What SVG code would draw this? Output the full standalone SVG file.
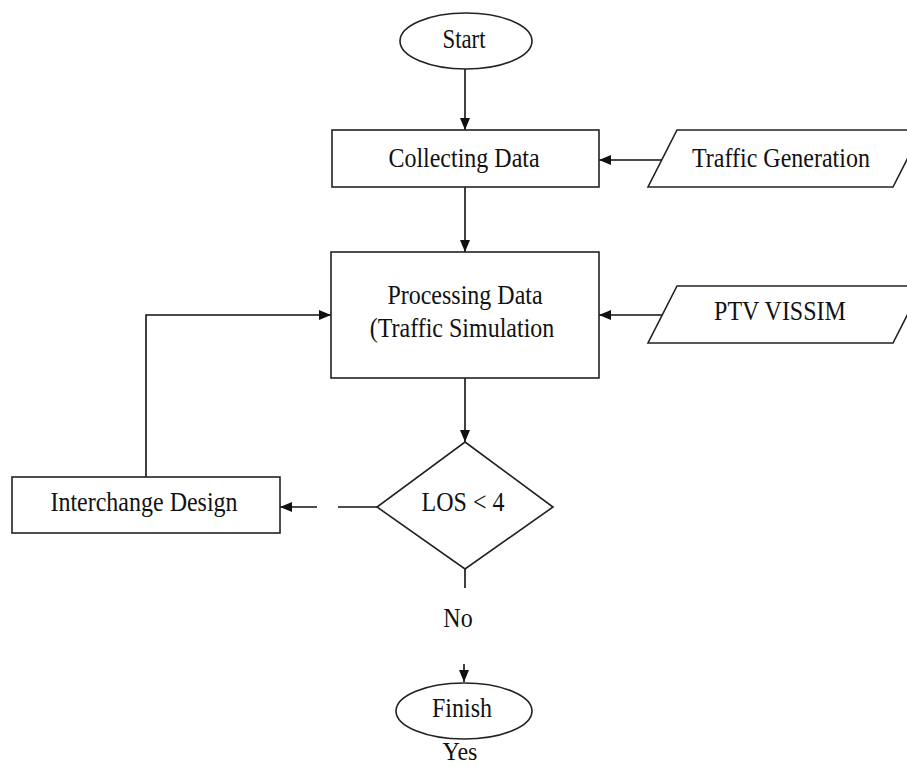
<svg xmlns="http://www.w3.org/2000/svg" width="907" height="767" viewBox="0 0 907 767">
<style>
.s{fill:#fff;stroke:#222;stroke-width:1.6}
.c{fill:none;stroke:#111;stroke-width:1.6}
.t{font-family:"Liberation Serif","Times New Roman",serif;font-size:24px;fill:#111;text-anchor:middle}
</style>
<defs>
<marker id="a" viewBox="0 0 12 10" refX="12" refY="5" markerWidth="12" markerHeight="10" markerUnits="userSpaceOnUse" orient="auto">
<path d="M0,0 L12,5 L0,10 Z" fill="#111"/>
</marker>
</defs>
<rect width="907" height="767" fill="#fff"/>
<g id="connectors">
<line class="c" x1="465" y1="69" x2="465" y2="130" marker-end="url(#a)"/>
<line class="c" x1="663" y1="160" x2="599" y2="160" marker-end="url(#a)"/>
<line class="c" x1="465" y1="187" x2="465" y2="252" marker-end="url(#a)"/>
<line class="c" x1="663" y1="315" x2="599" y2="315" marker-end="url(#a)"/>
<line class="c" x1="465" y1="378" x2="465" y2="442" marker-end="url(#a)"/>
<polyline class="c" points="146,477 146,315 331,315" marker-end="url(#a)"/>
<line class="c" x1="377" y1="507" x2="338" y2="507"/>
<line class="c" x1="317" y1="507" x2="280" y2="507" marker-end="url(#a)"/>
<line class="c" x1="465" y1="569" x2="465" y2="588"/>
<line class="c" x1="464" y1="664" x2="464" y2="682" marker-end="url(#a)"/>
</g>
<g id="start">
<ellipse class="s" cx="466" cy="41" rx="66" ry="28"/>
<text class="t" transform="translate(464,48) scale(0.95,1.1)">Start</text>
</g>
<g id="collecting">
<rect class="s" x="332" y="130" width="267" height="57"/>
<text class="t" transform="translate(464,167) scale(1,1.1)">Collecting Data</text>
</g>
<g id="traffic-generation">
<polygon class="s" points="677,130 922,130 893,187 648,187"/>
<text class="t" transform="translate(781,167) scale(1,1.1)">Traffic Generation</text>
</g>
<g id="processing">
<rect class="s" x="331" y="252" width="268" height="126"/>
<text class="t" transform="translate(465,304) scale(1,1.1)">Processing Data</text>
<text class="t" transform="translate(462,337) scale(1,1.1)">(Traffic Simulation</text>
</g>
<g id="ptv">
<polygon class="s" points="677,286 922,286 893,343 648,343"/>
<text class="t" transform="translate(780,320) scale(1,1.1)">PTV VISSIM</text>
</g>
<g id="decision">
<polygon class="s" points="465,442 553,507 465,569 377,507"/>
<text class="t" transform="translate(463,511) scale(1,1.1)">LOS &lt; 4</text>
</g>
<g id="interchange">
<rect class="s" x="12" y="477" width="268" height="56"/>
<text class="t" transform="translate(144,511) scale(1,1.1)">Interchange Design</text>
</g>
<g id="no-label">
<text class="t" transform="translate(458,627) scale(1,1.1)">No</text>
</g>
<g id="finish">
<ellipse class="s" cx="464" cy="711" rx="68" ry="28"/>
<text class="t" transform="translate(462,717) scale(1,1.1)">Finish</text>
</g>
<g id="yes-label">
<text class="t" transform="translate(460,760) scale(1,1.05)">Yes</text>
</g>
</svg>
